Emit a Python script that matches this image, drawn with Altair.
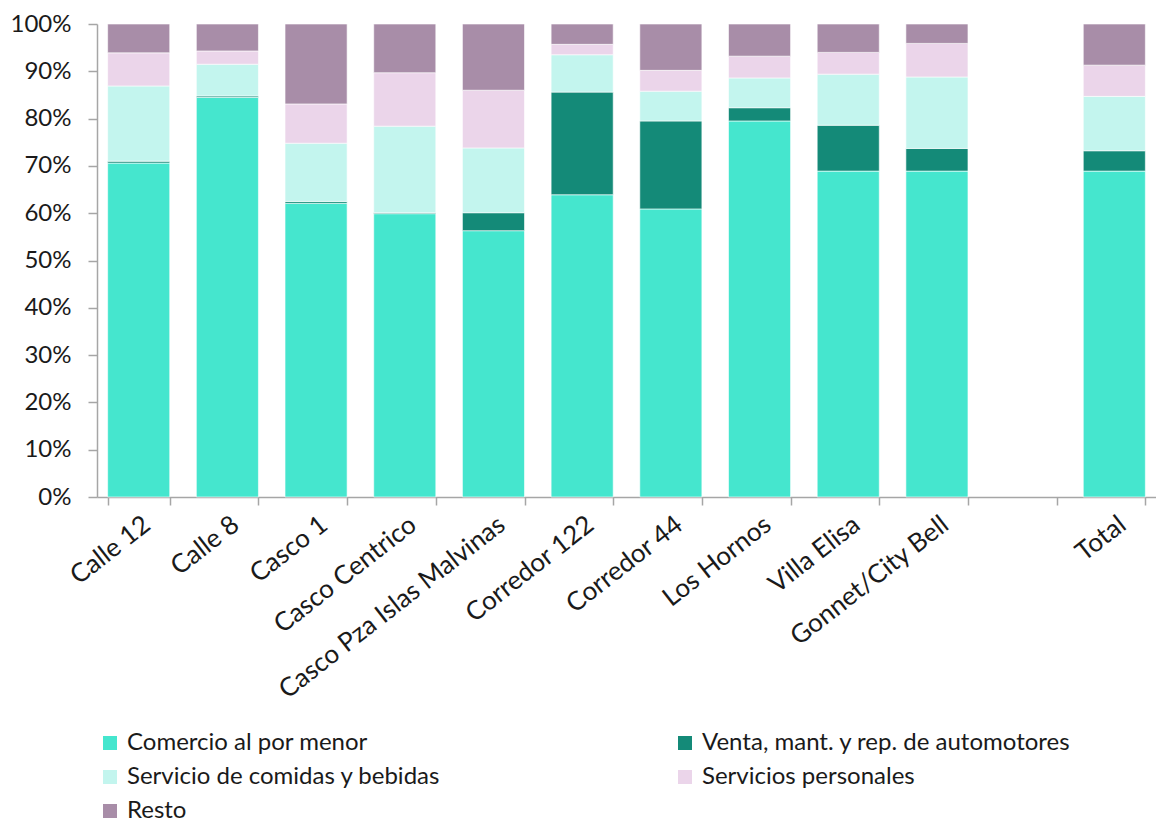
import altair as alt
import pandas as pd

zones = ["Calle 12", "Calle 8", "Casco 1", "Casco Centrico", "Casco Pza Islas Malvinas",
         "Corredor 122", "Corredor 44", "Los Hornos", "Villa Elisa", "Gonnet/City Bell", "Total"]
axis_domain = zones[:10] + [" "] + ["Total"]

series = ["Comercio al por menor", "Venta, mant. y rep. de automotores",
          "Servicio de comidas y bebidas", "Servicios personales", "Resto"]
colors = ["#45E6CE", "#148A78", "#C3F5EE", "#EBD5EA", "#A88DA8"]

comercio = [70.6, 84.5, 62.1, 59.9, 56.3, 63.9, 60.9, 79.5, 68.9, 68.9, 68.9]
venta = [0.4, 0.3, 0.4, 0.2, 3.8, 21.7, 18.6, 2.8, 9.7, 4.8, 4.3]
comidas = [15.9, 6.7, 12.3, 18.3, 13.7, 7.9, 6.3, 6.3, 10.8, 15.1, 11.5]
personales = [7.0, 2.8, 8.3, 11.3, 12.2, 2.2, 4.4, 4.6, 4.6, 7.1, 6.6]
resto = [6.1, 5.7, 16.9, 10.3, 14.0, 4.3, 9.8, 6.8, 6.0, 4.1, 8.7]

values = [comercio, venta, comidas, personales, resto]
rows = []
for si, (s, vals) in enumerate(zip(series, values)):
    for z, v in zip(zones, vals):
        rows.append({"zona": z, "rubro": s, "valor": v, "orden": si})
df = pd.DataFrame(rows)

FONT = "Lato"
TXT = "#1a1a1a"
GRAY = "#A6A6A6"

chart = alt.Chart(df).mark_bar(stroke="white", strokeWidth=0.6).encode(
    x=alt.X("zona:N", scale=alt.Scale(domain=axis_domain, paddingInner=0.3, paddingOuter=0.12),
            axis=alt.Axis(title=None, labelAngle=-38, labelFontSize=26, labelFont=FONT,
                          labelColor=TXT, tickBand="extent", tickSize=8, tickColor=GRAY,
                          domainColor=GRAY, domainWidth=1.5, tickWidth=1.5, labelPadding=6,
                          labelLimit=500)),
    y=alt.Y("valor:Q", stack="normalize", scale=alt.Scale(domain=[0, 1]),
            axis=alt.Axis(title=None, format="%", values=[i / 10 for i in range(11)],
                          labelFontSize=24, labelFont=FONT, labelColor=TXT, grid=False,
                          tickSize=9, tickColor=GRAY, domainColor=GRAY, domainWidth=1.5,
                          tickWidth=1.5, labelPadding=17)),
    color=alt.Color("rubro:N", scale=alt.Scale(domain=series, range=colors),
                    legend=alt.Legend(title=None, orient="none", legendX=1, legendY=707,
                                      direction="horizontal", columns=2, columnPadding=232,
                                      rowPadding=10, symbolType="square", symbolSize=196,
                                      symbolStrokeWidth=0, labelFont=FONT, labelFontSize=24,
                                      labelColor=TXT, labelOffset=5, labelLimit=600)),
    order=alt.Order("orden:Q", sort="ascending"),
).properties(
    width=1059, height=473,
    autosize=alt.AutoSizeParams(type="none"),
    padding={"left": 89, "top": 16, "right": 0, "bottom": 330},
).configure_view(stroke=None)

chart.save("out.html", embed_options={"renderer": "svg", "actions": False})
